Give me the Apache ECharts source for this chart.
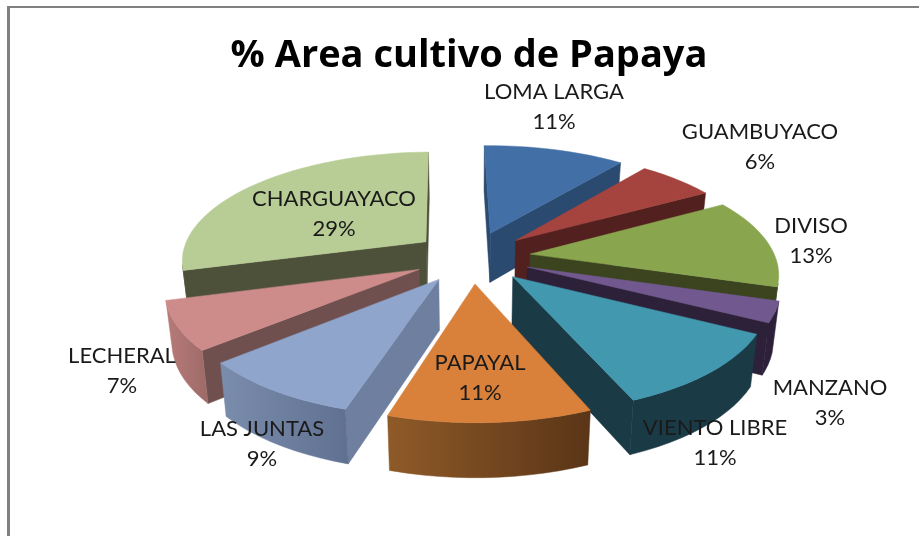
<!DOCTYPE html>
<html><head><meta charset="utf-8">
<style>html,body{margin:0;padding:0;background:#fff}#c{width:919px;height:536px}</style>
<script src="https://cdn.jsdelivr.net/npm/echarts@6/dist/echarts.min.js"></script>
</head><body><div id="c"></div>
<script>
const categories = ['LOMA LARGA','GUAMBUYACO','DIVISO','MANZANO','VIENTO LIBRE','PAPAYAL','LAS JUNTAS','LECHERAL','CHARGUAYACO'];
const seriesValues = [11,6,13,3,11,11,9,7,29];
const titleText = '% Area cultivo de Papaya';

const topColors = ['#426FA5','#A5433F','#89A54E','#71588F','#4198AF','#D9803A','#8FA5CC','#CD8C8A','#B8CC95'];
const cutColors = ['#2B4A70','#52201E','#3B431F','#2C2139','#1A3A46','#6E4420','#6E7F9F','#70504F','#4D513A'];
const outerFrom = ['#2B4A70','#52201E','#3B431F','#2C2139','#1A3A46','#8F5A28','#7B8DAC','#B87B79','#4D513A'];
const outerTo   = ['#2B4A70','#52201E','#3B431F','#2C2139','#1A3A46','#5A3517','#5F7090','#9C6A68','#4D513A'];
const labelCenters = [[554,107],[760,147],[811,241],[830,403],[715,443],[480,378],[262,444],[122,371],[334,214]];

const CX=472, CY=257, RX=245, RY=108, PERSP=0.155, EXPLODE=0.24, DEPTH=50, STEP=3, START=-1;
const total = seriesValues.reduce((a,b)=>a+b,0);
const rad = d=>d*Math.PI/180;
let acc=0;
const slices = seriesValues.map(v=>{const s=START+acc/total*360; acc+=v; const e=START+acc/total*360; return {s,e,m:(s+e)/2};});

function proj(u,v){const w=1+PERSP*v; return {x:CX+RX*u/w, y:CY-RY*v/w, w};}
function discPt(sl,a){const m=rad(sl.m), t=a===null?0:1, r=rad(a===null?0:a);
  return proj(EXPLODE*Math.sin(m)+t*Math.sin(r), EXPLODE*Math.cos(m)+t*Math.cos(r));}
function lower(p){return [CX+(p.x-CX)*0.978, p.y+DEPTH-26*(p.w-1)];}
function faceVisible(p0,p1){const b0=lower(p0);
  return (p1.x-p0.x)*(b0[1]-p0.y)-(p1.y-p0.y)*(b0[0]-p0.x) < 0;}
function quad(pts){return pts.map(p=>[p.x,p.y]).concat(pts.slice().reverse().map(lower));}
function poly(points,fill){return {type:'polygon',shape:{points},style:{fill,stroke:fill,lineWidth:0.5}};}

function renderSlice(params,api){
  const i=api.value(0), sl=slices[i];
  const apex=discPt(sl,null), arc=[];
  for(let a=sl.s;a<sl.e;a+=STEP) arc.push(discPt(sl,a));
  arc.push(discPt(sl,sl.e));
  const kids=[];
  if(faceVisible(apex,arc[0])) kids.push(poly(quad([apex,arc[0]]),cutColors[i]));
  if(faceVisible(arc[arc.length-1],apex)) kids.push(poly(quad([arc[arc.length-1],apex]),cutColors[i]));
  let run=[];
  const flush=()=>{ if(run.length>1){
      kids.push(poly(quad(run),new echarts.graphic.LinearGradient(0,0,1,0,[{offset:0,color:outerFrom[i]},{offset:1,color:outerTo[i]}])));
    } run=[]; };
  for(let k=0;k<arc.length-1;k++){
    if(faceVisible(arc[k],arc[k+1])){ if(!run.length) run.push(arc[k]); run.push(arc[k+1]); } else flush();
  }
  flush();
  kids.push(poly([apex].concat(arc).map(p=>[p.x,p.y]),topColors[i]));
  return {type:'group',children:kids};
}
function renderLabel(params,api){
  const i=api.value(0), c=labelCenters[i];
  return {type:'text',x:c[0],y:c[1],style:{
    text:categories[i]+'\n'+Math.round(seriesValues[i]/total*100)+'%',
    font:'400 22px Lato',lineHeight:30,fill:'#1a1a1a',align:'center',verticalAlign:'middle'}};
}
const order = categories.map((_,i)=>i).sort((a,b)=>Math.cos(rad(slices[b].m))-Math.cos(rad(slices[a].m)));
const rows = order.map(i=>[i,seriesValues[i],categories[i]]);

const chart=echarts.init(document.getElementById('c'),null,{renderer:'canvas'});
chart.setOption({
  animation:false,
  backgroundColor:'#fff',
  title:{text:titleText,left:464,top:32,textAlign:'center',textStyle:{fontFamily:'Open Sans',fontWeight:'bold',fontSize:38,color:'#000'}},
  graphic:[
    {type:'line',shape:{x1:8.5,y1:7,x2:8.5,y2:536},style:{stroke:'#808080',lineWidth:3},silent:true},
    {type:'line',shape:{x1:7,y1:7,x2:919,y2:7},style:{stroke:'#808080',lineWidth:2},silent:true}
  ],
  series:[
    {type:'custom',coordinateSystem:'none',renderItem:renderSlice,data:rows,z:2,silent:true},
    {type:'custom',coordinateSystem:'none',renderItem:renderLabel,data:rows,z:3,silent:true}
  ]
});
</script></body></html>
